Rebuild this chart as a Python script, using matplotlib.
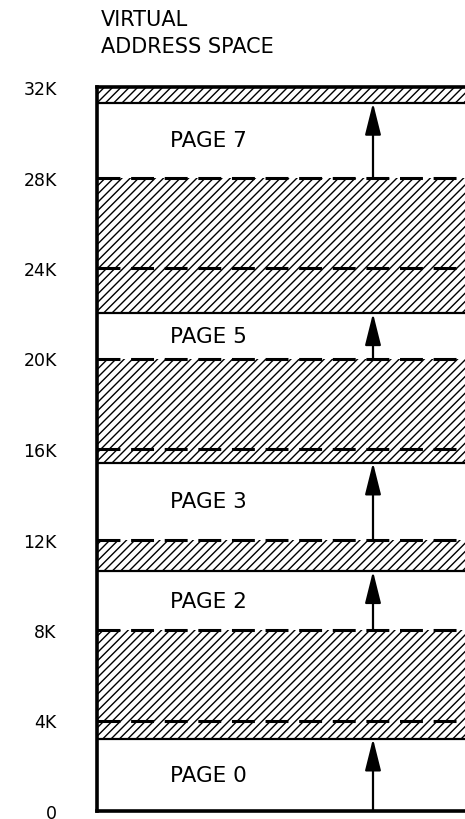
import matplotlib
matplotlib.use("Agg")
import matplotlib.pyplot as plt

# virtual address space, values in K
page_names = ["PAGE 0", "PAGE 2", "PAGE 3", "PAGE 5", "PAGE 7"]
page_start = [0, 8, 12, 20, 28]
page_end = [3.2, 10.6, 15.4, 22, 31.3]
unused_lo = [3.2, 10.6, 15.4, 22, 31.3]
unused_hi = [8, 12, 20, 28, 32]
page_bounds = [4, 8, 12, 16, 20, 24, 28]
tick_vals = [0, 4, 8, 12, 16, 20, 24, 28, 32]
tick_labels = ["0", "4K", "8K", "12K", "16K", "20K", "24K", "28K", "32K"]

plt.rcParams['font.family'] = ['DejaVu Sans']
plt.rcParams['hatch.linewidth'] = 1.0

W, H = 465, 820
fig = plt.figure(figsize=(W / 100, H / 100), dpi=100)
left = 97 / W
ax = fig.add_axes([left, 8 / H, 400 / W, (812 - 88) / H])
ax.set_xlim(0, 400)
ax.set_ylim(0, 32)

for lo, hi in zip(unused_lo, unused_hi):
    ax.axhspan(lo, hi, facecolor='white', edgecolor='black', hatch='////', linewidth=0)

for y in page_end:
    ax.axhline(y, color='black', lw=1.6)

for y in page_bounds:
    ax.axhline(y, color='black', lw=2.2, linestyle=(0, (7.5, 3.5)))

for name, s, e in zip(page_names, page_start, page_end):
    ax.text(111, (s + e) / 2, name, ha='center', va='center', fontsize=15.5)
    ax.annotate('', xy=(276, e), xytext=(276, s),
                arrowprops=dict(arrowstyle='-|>,head_length=1.4,head_width=0.35',
                                mutation_scale=14, lw=1.6, color='black',
                                shrinkA=0, shrinkB=0))

ax.set_xticks([])
ax.set_yticks(tick_vals)
ax.set_yticklabels(tick_labels, fontsize=12.5)
ax.tick_params(axis='y', length=0, pad=29)
for sp in ['left', 'top', 'bottom']:
    ax.spines[sp].set_linewidth(2.6)
ax.spines['right'].set_visible(False)

fig.text(101 / W, 1 - 10 / H, "VIRTUAL\nADDRESS SPACE", ha='left', va='top',
         fontsize=15, linespacing=1.45)

fig.savefig("out.png", dpi=100)
